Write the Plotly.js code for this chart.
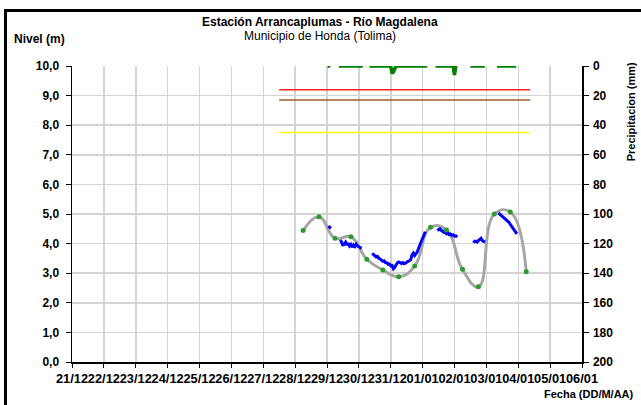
<!DOCTYPE html>
<html>
<head>
<meta charset="utf-8">
<script src="https://cdn.plot.ly/plotly-3.0.1.min.js"></script>
<style>
html,body{margin:0;padding:0;background:#fff;}
#frame{position:absolute;left:4px;top:9px;width:700px;height:500px;border-left:3px solid #000;border-top:3px solid #000;}
#chart{position:absolute;left:0;top:0;width:641px;height:405px;}
</style>
</head>
<body>
<div id="frame"></div>
<div id="chart"></div>
<script>
// Calculated level points (green) joined by smooth gray curve
const calcTimes = ['2012-12-28 06:00','2012-12-28 18:00','2012-12-29 06:00','2012-12-29 18:00',
  '2012-12-30 06:00','2012-12-30 18:00','2012-12-31 06:00','2012-12-31 18:00',
  '2013-01-01 06:00','2013-01-01 18:00','2013-01-02 06:00','2013-01-02 18:00',
  '2013-01-03 06:00','2013-01-03 18:00','2013-01-04 06:00'];
const calcLevels = [4.44,4.91,4.18,4.23,3.47,3.11,2.88,3.24,4.55,4.46,3.13,2.54,5.00,5.07,3.05];

// Observed level (blue), null = gap
const obsTimes = [
 '2012-12-29 01:00','2012-12-29 02:00','2012-12-29 03:00','2012-12-29 05:00',
 '2012-12-29 10:00','2012-12-29 11:00','2012-12-29 12:00','2012-12-29 13:00','2012-12-29 14:00','2012-12-29 15:00',
 '2012-12-29 16:00','2012-12-29 17:00','2012-12-29 18:00','2012-12-29 19:00','2012-12-29 20:00','2012-12-29 21:00',
 '2012-12-29 22:00','2012-12-29 23:00','2012-12-30 00:00','2012-12-30 01:00','2012-12-30 02:00','2012-12-30 05:00',
 '2012-12-30 10:00','2012-12-30 11:00','2012-12-30 12:00','2012-12-30 13:00','2012-12-30 14:00','2012-12-30 15:00',
 '2012-12-30 16:00','2012-12-30 17:00','2012-12-30 18:00','2012-12-30 19:00','2012-12-30 20:00','2012-12-30 21:00',
 '2012-12-30 22:00','2012-12-30 23:00','2012-12-31 00:00','2012-12-31 01:00','2012-12-31 02:00','2012-12-31 03:00',
 '2012-12-31 04:00','2012-12-31 05:00','2012-12-31 06:00','2012-12-31 07:00','2012-12-31 08:00','2012-12-31 09:00',
 '2012-12-31 10:00','2012-12-31 11:00','2012-12-31 12:00','2012-12-31 13:00','2012-12-31 14:00','2012-12-31 15:00',
 '2012-12-31 16:00','2012-12-31 17:00','2012-12-31 18:00','2012-12-31 19:00','2012-12-31 20:00','2012-12-31 21:00',
 '2012-12-31 22:00','2012-12-31 23:00','2013-01-01 00:00','2013-01-01 01:00','2013-01-01 02:00','2013-01-01 05:00',
 '2013-01-01 11:00','2013-01-01 12:00','2013-01-01 13:00','2013-01-01 14:00','2013-01-01 15:00','2013-01-01 16:00',
 '2013-01-01 17:00','2013-01-01 18:00','2013-01-01 19:00','2013-01-01 20:00','2013-01-01 21:00','2013-01-01 22:00',
 '2013-01-01 23:00','2013-01-02 00:00','2013-01-02 01:00','2013-01-02 02:00','2013-01-02 05:00',
 '2013-01-02 14:00','2013-01-02 15:00','2013-01-02 16:00','2013-01-02 17:00','2013-01-02 18:00','2013-01-02 19:00',
 '2013-01-02 20:00','2013-01-02 21:00','2013-01-02 22:00','2013-01-02 23:00','2013-01-03 02:00',
 '2013-01-03 09:00','2013-01-03 10:00','2013-01-03 11:00','2013-01-03 12:00','2013-01-03 13:00','2013-01-03 14:00',
 '2013-01-03 15:00','2013-01-03 16:00','2013-01-03 17:00','2013-01-03 18:00','2013-01-03 19:00','2013-01-03 20:00',
 '2013-01-03 21:00','2013-01-03 22:00','2013-01-03 23:00'];
const obsLevels = [
 4.59,4.55,4.52,null,
 4.12,4.05,3.93,3.98,4.05,3.95,
 4.02,3.92,3.97,3.88,3.95,3.90,
 3.98,3.92,3.90,3.88,3.84,null,
 3.67,3.62,3.60,3.55,3.57,3.50,
 3.48,3.45,3.40,3.42,3.36,3.35,
 3.30,3.31,3.25,3.26,3.15,3.20,
 3.30,3.35,3.38,3.36,3.33,3.36,
 3.32,3.34,3.38,3.40,3.42,3.45,
 3.62,3.68,3.60,3.65,3.72,3.85,
 3.95,4.05,4.15,4.28,4.40,null,
 4.44,4.47,4.50,4.45,4.42,4.38,
 4.40,4.33,4.35,4.30,4.32,4.28,
 4.30,4.25,4.26,4.22,null,
 4.10,4.07,4.08,4.05,4.10,4.15,
 4.18,4.10,4.08,4.05,null,
 5.04,5.00,4.98,4.95,4.90,4.87,
 4.80,4.76,4.72,4.65,4.58,4.52,
 4.45,4.38,4.33];

// Precipitation (mm), null = gap
const rainTimes = ['2012-12-29 00:30','2012-12-29 02:30','2012-12-29 05:00',
 '2012-12-29 09:00','2012-12-30 03:00','2012-12-30 05:00',
 '2012-12-30 08:00','2012-12-31 00:00','2012-12-31 01:00','2012-12-31 02:00','2012-12-31 03:00','2012-12-31 04:00','2013-01-01 03:30','2013-01-01 06:00',
 '2013-01-01 09:40','2013-01-01 23:00','2013-01-02 00:00','2013-01-02 01:00','2013-01-02 02:00','2013-01-02 05:00',
 '2013-01-02 12:00','2013-01-02 22:50','2013-01-03 02:00',
 '2013-01-03 08:00','2013-01-03 22:30'];
const rainMm = [0,0,null, 0,0,null, 0,0,5,4,2,0,0,null, 0,0,6,0,0,null, 0,0,null, 0,0];

// Alert thresholds (m)
const thrStart = '2012-12-27 12:00';
const thrEnd = '2013-01-04 09:00';
const thrRed = 9.2, thrBrown = 8.85, thrYellow = 7.75;

const tickFont = {family:'Liberation Sans, Arial, sans-serif', size:12, color:'#000', weight:'bold'};
const dateFont = {family:'Liberation Sans, Arial, sans-serif', size:12.8, color:'#000', weight:'bold'};

const traces = [
 {x:[thrStart,thrEnd], y:[thrRed,thrRed], mode:'lines', line:{color:'#ff2020', width:1.5}, hoverinfo:'skip'},
 {x:[thrStart,thrEnd], y:[thrBrown,thrBrown], mode:'lines', line:{color:'#9c5a2a', width:1.5}, hoverinfo:'skip'},
 {x:[thrStart,thrEnd], y:[thrYellow,thrYellow], mode:'lines', line:{color:'#ffff00', width:1.5}, hoverinfo:'skip'},
 {x:rainTimes, y:rainMm, yaxis:'y2', mode:'lines', connectgaps:false, line:{color:'#008000', width:3.5}},
 {x:calcTimes, y:calcLevels, mode:'lines', line:{color:'#a6a6a6', width:3, shape:'spline', smoothing:1.3}},
 {x:obsTimes, y:obsLevels, mode:'lines', connectgaps:false, line:{color:'#0000ff', width:3}},
 {x:calcTimes, y:calcLevels, mode:'markers', marker:{color:'#2e9a2e', size:5}}
];

const layout = {
 width:641, height:405,
 margin:{l:72, r:59, t:66, b:43},
 paper_bgcolor:'rgba(0,0,0,0)', plot_bgcolor:'rgba(0,0,0,0)',
 showlegend:false,
 separators:',.',
 font:{family:'Liberation Sans, Arial, sans-serif', size:12, color:'#000'},
 xaxis:{type:'date', range:['2012-12-21','2013-01-06'], tick0:'2012-12-21', dtick:86400000,
   tickformat:'%d/%m', tickangle:0, tickfont:dateFont, showgrid:true, gridcolor:'#d4d4d4', gridwidth:1.5,
   showline:true, linecolor:'#000', linewidth:1.5, ticks:'outside', ticklen:4, ticklabelstandoff:0, tickcolor:'#000', zeroline:false},
 yaxis:{range:[0,10], dtick:1, tickformat:'.1f', tickfont:tickFont, showgrid:true, gridcolor:'#d4d4d4', gridwidth:1.5,
   showline:true, linecolor:'#000', linewidth:1.5, ticks:'outside', ticklen:5, ticklabelstandoff:4, tickcolor:'#000', zeroline:false},
 yaxis2:{overlaying:'y', side:'right', range:[200,0], dtick:20, tickfont:tickFont, showgrid:false,
   showline:true, linecolor:'#000', linewidth:1.5, ticks:'outside', ticklen:5, ticklabelstandoff:2, tickcolor:'#000', zeroline:false},
 annotations:[
  {text:'<b>Estación Arrancaplumas - Río Magdalena</b>', xref:'paper', yref:'paper', x:0.486, y:1.149,
   xanchor:'center', yanchor:'middle', showarrow:false, font:{size:12}},
  {text:'Municipio de Honda (Tolima)', xref:'paper', yref:'paper', x:0.486, y:1.101,
   xanchor:'center', yanchor:'middle', showarrow:false, font:{size:12}},
  {text:'<b>Nivel (m)</b>', xref:'paper', yref:'paper', x:-0.117, y:1.091,
   xanchor:'left', yanchor:'middle', showarrow:false, font:{size:12}},
  {text:'<b>Precipitacion (mm)</b>', xref:'paper', yref:'paper', x:1.095, y:0.845,
   xanchor:'center', yanchor:'middle', textangle:-90, showarrow:false, font:{size:11}},
  {text:'<b>Fecha (DD/M/AA)</b>', xref:'paper', yref:'paper', x:1.106, y:-0.107,
   xanchor:'right', yanchor:'middle', showarrow:false, font:{size:11}}
 ]
};

Plotly.newPlot('chart', traces, layout, {staticPlot:true, displayModeBar:false});
</script>
</body>
</html>
